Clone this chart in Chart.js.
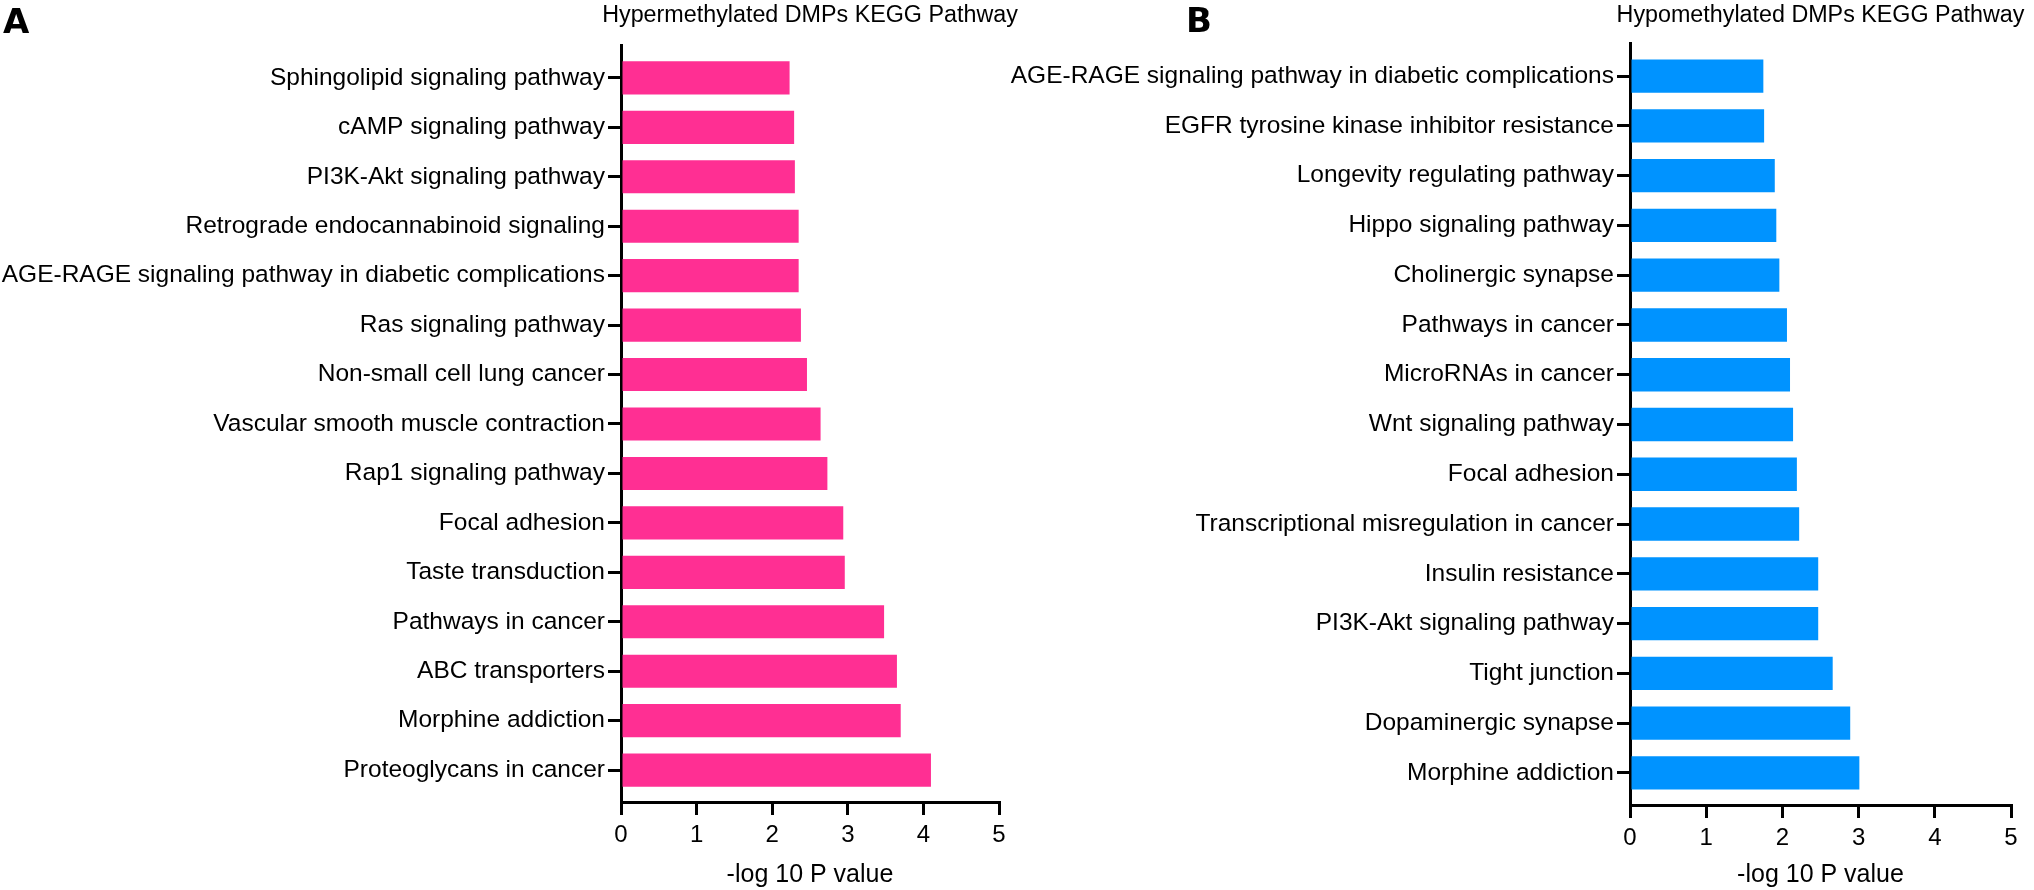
<!DOCTYPE html>
<html>
<head>
<meta charset="utf-8">
<title>DMPs KEGG Pathway</title>
<script src="https://cdn.jsdelivr.net/npm/chart.js@4.4.1/dist/chart.umd.min.js"></script>
<style>
  html, body { margin: 0; padding: 0; background: #fff; }
  body { width: 2034px; height: 890px; position: relative; overflow: hidden;
         font-family: "Liberation Sans", Arial, Helvetica, sans-serif; }
  .panel { position: absolute; top: 0; height: 890px; }
  .tag { position: absolute; font-family: "DejaVu Sans", sans-serif; font-weight: bold;
         font-size: 34px; line-height: 34px; color: #000; }
</style>
</head>
<body>
<div class="panel" style="left:0; width:1030px"><canvas id="hyperChart"></canvas></div>
<div class="panel" style="left:1000px; width:1034px"><canvas id="hypoChart"></canvas></div>
<div class="tag" style="left:3px; top:4px">A</div>
<div class="tag" style="left:1186px; top:3px">B</div>
<script>
// panel A: hypermethylated
var hyperPathways = [
  "Sphingolipid signaling pathway", "cAMP signaling pathway", "PI3K-Akt signaling pathway",
  "Retrograde endocannabinoid signaling", "AGE-RAGE signaling pathway in diabetic complications",
  "Ras signaling pathway", "Non-small cell lung cancer", "Vascular smooth muscle contraction",
  "Rap1 signaling pathway", "Focal adhesion", "Taste transduction", "Pathways in cancer",
  "ABC transporters", "Morphine addiction", "Proteoglycans in cancer"
];
var hyperValues = [2.23, 2.29, 2.30, 2.35, 2.35, 2.38, 2.46, 2.64, 2.73, 2.94, 2.96, 3.48, 3.65, 3.70, 4.10];

// panel B: hypomethylated
var hypoPathways = [
  "AGE-RAGE signaling pathway in diabetic complications", "EGFR tyrosine kinase inhibitor resistance",
  "Longevity regulating pathway", "Hippo signaling pathway", "Cholinergic synapse",
  "Pathways in cancer", "MicroRNAs in cancer", "Wnt signaling pathway", "Focal adhesion",
  "Transcriptional misregulation in cancer", "Insulin resistance", "PI3K-Akt signaling pathway",
  "Tight junction", "Dopaminergic synapse", "Morphine addiction"
];
var hypoValues = [1.75, 1.76, 1.90, 1.92, 1.96, 2.06, 2.10, 2.14, 2.19, 2.22, 2.47, 2.47, 2.66, 2.89, 3.01];

var xMin = 0, xMax = 5, xStep = 1;

Chart.defaults.font.family = '"Liberation Sans", Arial, Helvetica, sans-serif';
Chart.defaults.color = '#000';

// title centred over the plot area, like the original figure
var panelTitle = {
  id: 'panelTitle',
  afterDraw: function(chart, args, opts) {
    var a = chart.chartArea, c = chart.ctx;
    c.save();
    c.font = '23.3px "Liberation Sans", Arial, sans-serif';
    c.fillStyle = '#000';
    c.textAlign = 'center';
    c.textBaseline = 'middle';
    c.fillText(opts.text, (a.left + a.right) / 2, opts.y);
    c.restore();
  }
};

function makeChart(id, title, names, values, color, box) {
  var ctx = document.getElementById(id).getContext('2d');
  return new Chart(ctx, {
    type: 'bar',
    data: {
      datasets: [{
        data: values.map(function(v, i) { return { x: v, y: i }; }),
        backgroundColor: color,
        borderWidth: 0,
        barPercentage: 0.67,
        categoryPercentage: 1.0
      }]
    },
    plugins: [panelTitle],
    options: {
      indexAxis: 'y',
      responsive: true,
      maintainAspectRatio: false,
      animation: false,
      layout: { padding: { left: 0, right: box.right, top: box.top, bottom: 0 } },
      plugins: {
        legend: { display: false },
        tooltip: { enabled: false },
        title: { display: false },
        panelTitle: { text: title, y: 16 }
      },
      scales: {
        x: {
          type: 'linear',
          min: xMin,
          max: xMax,
          afterFit: function(s) { s.height = box.xHeight; },
          ticks: { stepSize: xStep, color: '#000', font: { size: 24 }, padding: 6 },
          grid: { drawOnChartArea: false, color: '#000', lineWidth: 3, tickLength: 13 },
          border: { color: '#000', width: 3 },
          title: {
            display: true,
            text: '-log 10 P value',
            color: '#000',
            font: { size: 25 },
            padding: { top: 0, bottom: 0 }
          }
        },
        y: {
          type: 'linear',
          reverse: true,
          offset: false,
          min: -0.665,
          max: 14.645,
          afterFit: function(s) { s.width = box.axisLeft; },
          ticks: {
            stepSize: 1,
            includeBounds: false,
            autoSkip: false,
            color: '#000',
            font: { size: 24.5 },
            padding: 3,
            callback: function(v) { return names[v] || ''; }
          },
          grid: { offset: false, drawOnChartArea: false, color: '#000', lineWidth: 3, tickLength: 13 },
          border: { color: '#000', width: 3 }
        }
      }
    }
  });
}

makeChart('hyperChart', 'Hypermethylated DMPs KEGG Pathway', hyperPathways, hyperValues, '#FF2F93',
  { axisLeft: 621, right: 31, top: 45, xHeight: 88 });
makeChart('hypoChart', 'Hypomethylated DMPs KEGG Pathway', hypoPathways, hypoValues, '#0093FF',
  { axisLeft: 630, right: 23, top: 43, xHeight: 85 });
</script>
</body>
</html>
